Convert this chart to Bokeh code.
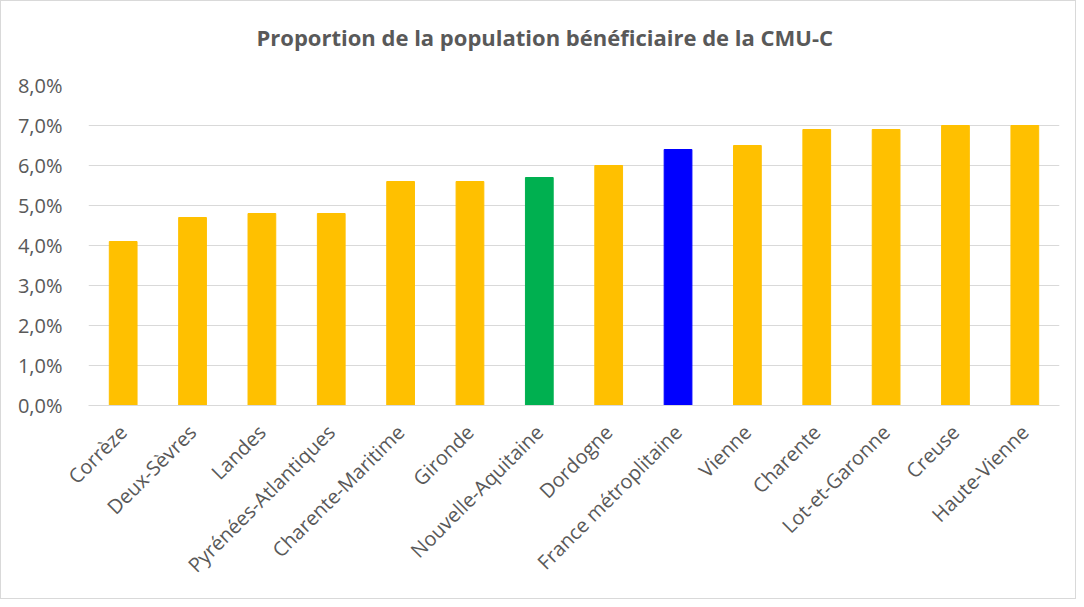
import math
from bokeh.plotting import figure
from bokeh.models import ColumnDataSource, CustomJSTickFormatter, FixedTicker, Range1d, Title
from bokeh.embed import file_html
from bokeh.resources import INLINE

title_text = "Proportion de la population bénéficiaire de la CMU-C"
categories = ["Corrèze", "Deux-Sèvres", "Landes", "Pyrénées-Atlantiques", "Charente-Maritime",
              "Gironde", "Nouvelle-Aquitaine", "Dordogne", "France métroplitaine", "Vienne",
              "Charente", "Lot-et-Garonne", "Creuse", "Haute-Vienne"]
values = [4.1, 4.7, 4.8, 4.8, 5.6, 5.6, 5.7, 6.0, 6.4, 6.5, 6.9, 6.9, 7.0, 7.0]
colors = ["#FFC000"] * 6 + ["#00B050", "#FFC000", "#0000FF"] + ["#FFC000"] * 5
y_ticks = [0, 1, 2, 3, 4, 5, 6, 7, 8]

src = ColumnDataSource(dict(cat=categories, val=values, col=colors))

p = figure(x_range=categories, width=1076, height=599, output_backend="svg",
           toolbar_location=None,
           min_border_left=87, min_border_right=18, min_border_top=84, min_border_bottom=195)
p.title = None
p.y_range = Range1d(0, 8)
p.vbar(x="cat", top="val", width=0.4, color="col", source=src)

spacer = Title(text=" ", text_font="Open Sans", text_font_size="22px", standoff=2)
p.add_layout(spacer, "above")
main_title = Title(text=title_text, align="left", offset=168, standoff=0,
                   text_font="Open Sans", text_font_size="22px", text_font_style="bold",
                   text_color="#595959")
p.add_layout(main_title, "above")

p.yaxis.ticker = FixedTicker(ticks=y_ticks)
p.yaxis.formatter = CustomJSTickFormatter(code="return tick.toFixed(1).replace('.', ',') + '%';")
for ax in (p.xaxis[0], p.yaxis[0]):
    ax.major_label_text_font = "Open Sans"
    ax.major_label_text_font_size = "20px"
    ax.major_label_text_color = "#595959"
    ax.major_tick_line_color = None
    ax.minor_tick_line_color = None
p.yaxis.axis_line_color = None
p.xaxis.axis_line_color = "#D9D9D9"
p.xaxis.major_label_orientation = math.pi / 4
p.xaxis.major_label_standoff = 17
p.yaxis.major_label_standoff = 20

p.xgrid.grid_line_color = None
p.ygrid.grid_line_color = "#D9D9D9"
p.ygrid.grid_line_width = 1
p.outline_line_color = None
p.styles = {"border": "1px solid #D9D9D9", "box-sizing": "border-box"}

open("out.html", "w").write(file_html(p, INLINE))
